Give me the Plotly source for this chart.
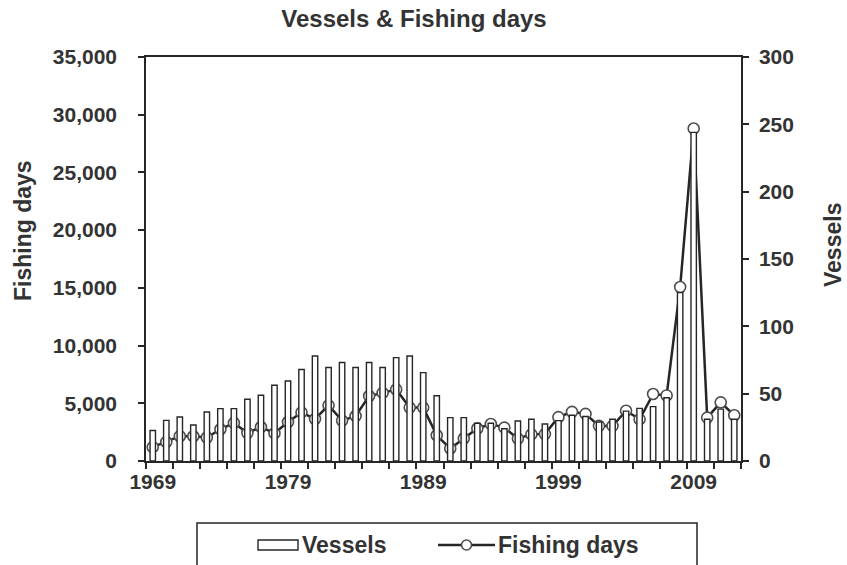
import plotly.graph_objects as go

years = list(range(1969, 2013))
vessels = [22.7, 30.2, 32.7, 26.7, 36.4, 38.9, 38.9, 45.8, 48.8, 56.2,
           59.4, 68.0, 78.0, 69.4, 73.1, 69.4, 73.1, 69.4, 76.8, 78.0,
           65.6, 48.5, 32.2, 32.2, 28.0, 28.0, 24.0, 29.7, 31.0, 27.5,
           30.0, 34.0, 33.0, 29.0, 31.0, 37.0, 39.1, 40.4, 47.0, 125.0,
           244.0, 31.0, 38.5, 31.0]
fishing_days = [1200, 1650, 2150, 2140, 2030, 2750, 3300, 2420, 2950, 2400,
                3380, 4210, 3640, 4820, 3500, 3900, 5630, 5900, 6200, 4625,
                4625, 2225, 1080, 1950, 2820, 3200, 2890, 1940, 2310, 2330,
                3800, 4260, 4080, 3040, 3040, 4350, 3610, 5800, 5680, 15070,
                28800, 3760, 5080, 3960]
x_labels = [1969, 1979, 1989, 1999, 2009]
left_ticks = [0, 5000, 10000, 15000, 20000, 25000, 30000, 35000]
right_ticks = [0, 50, 100, 150, 200, 250, 300]

INK = "#262626"
TXT = "#333333"
FONT = "Liberation Sans"
FS = 21      # tick labels
FT = 23      # axis titles / legend
FTITLE = 24  # chart title

fig = go.Figure()
fig.add_trace(go.Bar(
    x=years, y=vessels, name="Vessels", yaxis="y2",
    marker=dict(color="white", line=dict(color=INK, width=1.4)),
    showlegend=False,
))
fig.add_trace(go.Scatter(
    x=years, y=fishing_days, name="Fishing days", mode="lines+markers",
    line=dict(color=INK, width=2.5),
    marker=dict(symbol="circle", size=11, color="white", line=dict(color="#4d4d4d", width=1.6)),
    showlegend=False,
))

W, H = 847, 565
L, R, T, B = 146, 106, 57, 104
pw, ph = W - L - R, H - T - B

def px(x):
    return (x - L) / pw

def py(y):
    return (H - B - y) / ph

fig.update_layout(
    width=W, height=H,
    margin=dict(l=L, r=R, t=T, b=B, autoexpand=False),
    paper_bgcolor="white", plot_bgcolor="white",
    bargap=0.6,
    font=dict(family=FONT, color=TXT, size=FS),
    title=dict(text="<b>Vessels & Fishing days</b>", x=px(414), xref="paper",
               xanchor="center", y=1 - 19 / H, yanchor="middle",
               font=dict(family=FONT, size=FTITLE, color=TXT)),
    xaxis=dict(
        range=[1968.5, 2012.5], tickmode="array", tickvals=x_labels,
        ticktext=[f"<b>{v}</b>" for v in x_labels], ticks="",
        ticklabelstandoff=1,
        showline=True, linecolor=INK, linewidth=1.5, mirror=True,
        showgrid=False, zeroline=False,
        minor=dict(tickmode="linear", tick0=1968.5, dtick=2, ticks="outside",
                   ticklen=6, tickcolor=INK, tickwidth=1.5, showgrid=False),
        tickfont=dict(family=FONT, size=FS, color=TXT),
    ),
    yaxis=dict(
        range=[0, 35000], tickmode="array", tickvals=left_ticks,
        ticktext=[f"<b>{v:,}</b>" for v in left_ticks],
        ticks="outside", ticklen=6, tickcolor=INK, tickwidth=1.5,
        ticklabelstandoff=17,
        showline=True, linecolor=INK, linewidth=1.5, showgrid=False, zeroline=False,
        tickfont=dict(family=FONT, size=FS, color=TXT),
    ),
    yaxis2=dict(
        range=[0, 300], tickmode="array", tickvals=right_ticks,
        ticktext=[f"<b>{v}</b>" for v in right_ticks],
        overlaying="y", side="right",
        ticks="outside", ticklen=6, tickcolor=INK, tickwidth=1.5,
        ticklabelstandoff=6,
        showline=True, linecolor=INK, linewidth=1.5, showgrid=False, zeroline=False,
        tickfont=dict(family=FONT, size=FS, color=TXT),
    ),
)

# axis titles
fig.add_annotation(text="<b>Fishing days</b>", xref="paper", yref="paper",
                   x=px(23), y=py(231), xanchor="center", yanchor="middle",
                   textangle=-90, showarrow=False,
                   font=dict(family=FONT, size=FT, color=TXT))
fig.add_annotation(text="<b>Vessels</b>", xref="paper", yref="paper",
                   x=px(833), y=py(245), xanchor="center", yanchor="middle",
                   textangle=-90, showarrow=False,
                   font=dict(family=FONT, size=FT, color=TXT))

# legend (drawn)
fig.add_shape(type="rect", xref="paper", yref="paper",
              x0=px(197), x1=px(697), y0=py(575), y1=py(523),
              line=dict(color=INK, width=1.5), fillcolor="white", layer="above")
fig.add_shape(type="rect", xref="paper", yref="paper",
              x0=px(258), x1=px(298), y0=py(550), y1=py(540),
              line=dict(color=INK, width=1.4), fillcolor="white", layer="above")
fig.add_annotation(text="<b>Vessels</b>", xref="paper", yref="paper",
                   x=px(300), y=py(545), xanchor="left", yanchor="middle", showarrow=False,
                   font=dict(family=FONT, size=FT, color=TXT))
fig.add_shape(type="line", xref="paper", yref="paper",
              x0=px(438), x1=px(495), y0=py(545), y1=py(545),
              line=dict(color=INK, width=2.5), layer="above")
fig.add_shape(type="circle", xref="paper", yref="paper",
              x0=px(461.5), x1=px(471.5), y0=py(550), y1=py(540),
              line=dict(color="#4d4d4d", width=1.6), fillcolor="white", layer="above")
fig.add_annotation(text="<b>Fishing days</b>", xref="paper", yref="paper",
                   x=px(496), y=py(545), xanchor="left", yanchor="middle", showarrow=False,
                   font=dict(family=FONT, size=FT, color=TXT))

fig.write_html("out.html", config={"displayModeBar": False},
               post_script="document.body.style.margin='0';")
